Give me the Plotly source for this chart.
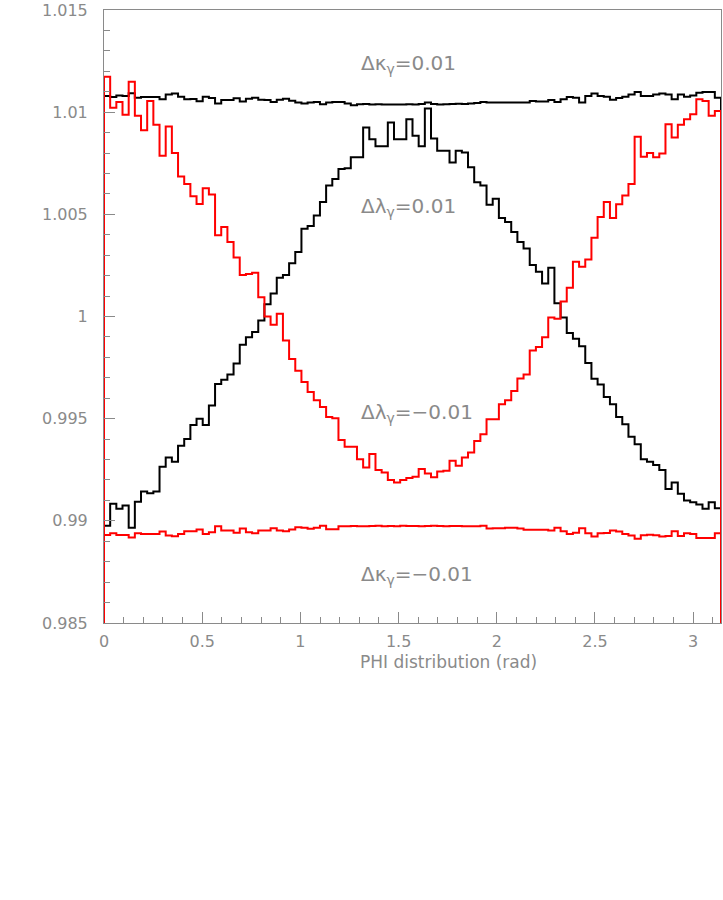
import numpy as np
import plotly.graph_objects as go

# ---- data (100 bins over 0..pi) ----
N_BINS = 100
PHI_MAX = np.pi

# Delta lambda_gamma = +0.01 (black hump)
LH_P = [0.98976, 0.99083, 0.99059, 0.99075, 0.98966, 0.99093, 0.99143, 0.99135, 0.99143, 0.99265,
        0.99310, 0.99289, 0.99367, 0.99400, 0.99469, 0.99500, 0.99469, 0.99565, 0.99670, 0.99690,
        0.99716, 0.99770, 0.99862, 0.99898, 0.99924, 0.99981, 1.00060, 1.00113, 1.00190, 1.00203,
        1.00260, 1.00316, 1.00430, 1.00443, 1.00494, 1.00560, 1.00641, 1.00673, 1.00722, 1.00725,
        1.00779, 1.00779, 1.00925, 1.00868, 1.00833, 1.00833, 1.00949, 1.00868, 1.00868, 1.00965,
        1.00884, 1.00833, 1.01018, 1.00871, 1.00811, 1.00811, 1.00754, 1.00811, 1.00803, 1.00730,
        1.00657, 1.00641, 1.00547, 1.00576, 1.00482, 1.00462, 1.00414, 1.00365, 1.00333, 1.00252,
        1.00219, 1.00162, 1.00239, 1.00065, 0.99995, 0.99919, 0.99891, 0.99854, 0.99773, 0.99695,
        0.99667, 0.99606, 0.99570, 0.99508, 0.99473, 0.99411, 0.99375, 0.99302, 0.99289, 0.99273,
        0.99249, 0.99156, 0.99188, 0.99132, 0.99099, 0.99091, 0.99080, 0.99059, 0.99091, 0.99062]

# Delta lambda_gamma = -0.01 (red dip)
LH_M = [1.01173, 1.01022, 1.01050, 1.00987, 1.01149, 1.00982, 1.00912, 1.01055, 1.00938, 1.00787,
        1.00930, 1.00800, 1.00685, 1.00649, 1.00588, 1.00550, 1.00628, 1.00597, 1.00398, 1.00438,
        1.00365, 1.00289, 1.00203, 1.00208, 1.00214, 1.00094, 1.00000, 0.99960, 1.00013, 0.99882,
        0.99792, 0.99734, 0.99680, 0.99631, 0.99590, 0.99557, 0.99508, 0.99502, 0.99395, 0.99362,
        0.99362, 0.99302, 0.99261, 0.99327, 0.99249, 0.99237, 0.99200, 0.99187, 0.99200, 0.99210,
        0.99216, 0.99254, 0.99232, 0.99213, 0.99242, 0.99245, 0.99294, 0.99270, 0.99310, 0.99335,
        0.99391, 0.99424, 0.99497, 0.99497, 0.99570, 0.99590, 0.99635, 0.99697, 0.99716, 0.99833,
        0.99851, 0.99898, 0.99995, 0.99989, 1.00073, 1.00141, 1.00268, 1.00243, 1.00279, 1.00385,
        1.00487, 1.00560, 1.00482, 1.00549, 1.00592, 1.00648, 1.00880, 1.00782, 1.00800, 1.00779,
        1.00798, 1.00941, 1.00876, 1.00938, 1.00965, 1.00990, 1.01063, 1.01055, 1.00982, 1.01006]

# Delta kappa_gamma = +0.01 (black, flat top)
KG_P = [1.01079, 1.01074, 1.01082, 1.01079, 1.01092, 1.01071, 1.01074, 1.01074, 1.01074, 1.01063,
        1.01086, 1.01091, 1.01076, 1.01063, 1.01065, 1.01053, 1.01076, 1.01069, 1.01042, 1.01060,
        1.01060, 1.01068, 1.01052, 1.01066, 1.01071, 1.01061, 1.01060, 1.01050, 1.01061, 1.01066,
        1.01056, 1.01047, 1.01043, 1.01047, 1.01050, 1.01039, 1.01047, 1.01050, 1.01050, 1.01042,
        1.01034, 1.01039, 1.01040, 1.01038, 1.01039, 1.01038, 1.01037, 1.01038, 1.01038, 1.01039,
        1.01038, 1.01040, 1.01047, 1.01040, 1.01038, 1.01039, 1.01040, 1.01041, 1.01040, 1.01042,
        1.01045, 1.01050, 1.01047, 1.01047, 1.01047, 1.01047, 1.01047, 1.01047, 1.01047, 1.01055,
        1.01052, 1.01052, 1.01060, 1.01050, 1.01063, 1.01074, 1.01071, 1.01047, 1.01079, 1.01091,
        1.01079, 1.01076, 1.01061, 1.01069, 1.01076, 1.01087, 1.01099, 1.01079, 1.01079, 1.01086,
        1.01091, 1.01086, 1.01063, 1.01086, 1.01076, 1.01082, 1.01095, 1.01099, 1.01099, 1.01071]

# Delta kappa_gamma = -0.01 (red, flat bottom)
KG_M = [0.98931, 0.98939, 0.98931, 0.98931, 0.98919, 0.98939, 0.98936, 0.98936, 0.98936, 0.98948,
        0.98928, 0.98924, 0.98936, 0.98949, 0.98949, 0.98958, 0.98936, 0.98944, 0.98973, 0.98953,
        0.98953, 0.98942, 0.98962, 0.98944, 0.98939, 0.98953, 0.98953, 0.98964, 0.98953, 0.98949,
        0.98958, 0.98969, 0.98966, 0.98961, 0.98966, 0.98976, 0.98959, 0.98959, 0.98973, 0.98974,
        0.98975, 0.98973, 0.98974, 0.98975, 0.98976, 0.98974, 0.98975, 0.98974, 0.98976, 0.98975,
        0.98975, 0.98974, 0.98975, 0.98976, 0.98975, 0.98974, 0.98975, 0.98975, 0.98973, 0.98973,
        0.98973, 0.98976, 0.98962, 0.98964, 0.98964, 0.98966, 0.98966, 0.98962, 0.98956, 0.98956,
        0.98956, 0.98956, 0.98953, 0.98966, 0.98949, 0.98936, 0.98942, 0.98964, 0.98939, 0.98923,
        0.98939, 0.98941, 0.98953, 0.98948, 0.98936, 0.98928, 0.98912, 0.98929, 0.98932, 0.98929,
        0.98923, 0.98926, 0.98949, 0.98926, 0.98939, 0.98936, 0.98916, 0.98916, 0.98916, 0.98939]

Y_MIN, Y_MAX = 0.985, 1.015
Y_TICKS = [0.985, 0.99, 0.995, 1.0, 1.005, 1.01, 1.015]
Y_TICK_TEXT = ["0.985", "0.99", "0.995", "1", "1.005", "1.01", "1.015"]
X_TICKS = [0, 0.5, 1, 1.5, 2, 2.5, 3]
X_TICK_TEXT = ["0", "0.5", "1", "1.5", "2", "2.5", "3"]

LABELS = [
    ("Δκ<sub>γ</sub>=0.01", 1.30, 1.01237),
    ("Δλ<sub>γ</sub>=0.01", 1.30, 1.00536),
    ("Δλ<sub>γ</sub>=−0.01", 1.30, 0.99529),
    ("Δκ<sub>γ</sub>=−0.01", 1.30, 0.98734),
]
X_TITLE = "PHI distribution (rad)"

GRAY = "#8a8a8a"
FONT = "DejaVu Sans"

edges = np.linspace(0, PHI_MAX, N_BINS + 1)


def hist_xy(vals):
    x = [edges[0]] + list(edges[:-1]) + [edges[-1], edges[-1]]
    y = [Y_MIN] + list(vals) + [vals[-1], Y_MIN]
    return x, y


fig = go.Figure()
for vals, color in [(KG_P, "black"), (LH_P, "black"), (LH_M, "#ff0000"), (KG_M, "#ff0000")]:
    x, y = hist_xy(vals)
    fig.add_trace(go.Scatter(x=x, y=y, mode="lines", line=dict(color=color, width=2, shape="hv"),
                             hoverinfo="skip", showlegend=False))

for text, lx, ly in LABELS:
    fig.add_annotation(x=lx, y=ly, xref="x", yref="y", text=text, showarrow=False,
                       xanchor="left", yanchor="middle",
                       font=dict(family=FONT, size=20, color=GRAY))

fig.add_annotation(x=1.755, y=0, xref="x", yref="paper", text=X_TITLE,
                   showarrow=False, xanchor="center", yanchor="top", yshift=-27,
                   font=dict(family=FONT, size=17, color=GRAY))

fig.update_layout(
    width=723, height=900,
    margin=dict(l=104, r=1, t=7, b=277, pad=0),
    paper_bgcolor="white", plot_bgcolor="white",
    font=dict(family=FONT, size=16, color=GRAY),
)
fig.update_xaxes(
    range=[0, PHI_MAX], showgrid=False, zeroline=False,
    showline=True, linecolor=GRAY, linewidth=1, mirror=True,
    ticks="inside", ticklen=11, tickcolor=GRAY, tickwidth=1,
    tickvals=X_TICKS, ticktext=X_TICK_TEXT, ticklabelstandoff=4,
    ticklabeloverflow="allow",
    minor=dict(dtick=0.1, ticks="inside", ticklen=6, tickcolor=GRAY, showgrid=False),
    tickfont=dict(family=FONT, size=16, color=GRAY),
)
fig.update_yaxes(
    range=[Y_MIN, Y_MAX + 1e-7], showgrid=False, zeroline=False,
    showline=True, linecolor=GRAY, linewidth=1, mirror=True,
    ticks="inside", ticklen=11, tickcolor=GRAY, tickwidth=1,
    tickvals=Y_TICKS, ticktext=Y_TICK_TEXT, ticklabelstandoff=12,
    ticklabeloverflow="allow",
    minor=dict(dtick=0.001, tick0=0.985, ticks="inside", ticklen=6, tickcolor=GRAY, showgrid=False),
    tickfont=dict(family=FONT, size=16, color=GRAY),
)

fig.write_html("out.html", config={"displayModeBar": False},
               post_script="document.body.style.margin='0';")
